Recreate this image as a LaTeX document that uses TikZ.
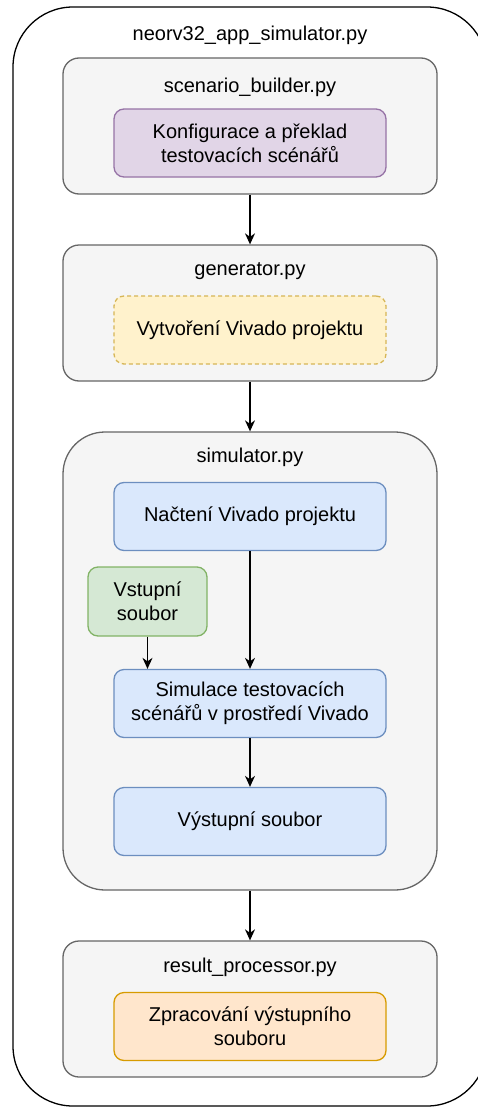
\documentclass[tikz,border=0pt]{standalone}
\usepackage{fontspec}
\setmainfont{Liberation Sans}
\usetikzlibrary{arrows.meta}
\definecolor{grpfill}{HTML}{F5F5F5}
\definecolor{grpline}{HTML}{666666}
\definecolor{purfill}{HTML}{E1D5E7}
\definecolor{purline}{HTML}{9673A6}
\definecolor{yelfill}{HTML}{FFF2CC}
\definecolor{yelline}{HTML}{D6B656}
\definecolor{blufill}{HTML}{DAE8FC}
\definecolor{bluline}{HTML}{6C8EBF}
\definecolor{grnfill}{HTML}{D5E8D4}
\definecolor{grnline}{HTML}{82B366}
\definecolor{orafill}{HTML}{FFE6CC}
\definecolor{oraline}{HTML}{D79B00}
\begin{document}
\begin{tikzpicture}[x=1pt,y=-1pt,
  every node/.style={font=\fontsize{20}{24}\selectfont, inner sep=0pt, align=center, text=black},
  outerbox/.style={draw=black, line width=1.3pt, rounded corners=60pt, minimum width=474pt, minimum height=1099pt},
  group/.style={draw=grpline, fill=grpfill, line width=1.3pt, rounded corners=16pt, minimum width=374pt, minimum height=136pt},
  simgroup/.style={draw=grpline, fill=grpfill, line width=1.3pt, rounded corners=42pt, minimum width=374pt, minimum height=458pt},
  inbox/.style={line width=1.3pt, rounded corners=10pt, minimum width=272pt, minimum height=68pt},
  purbox/.style={inbox, draw=purline, fill=purfill},
  yelbox/.style={inbox, draw=yelline, fill=yelfill, dash pattern=on 4pt off 3pt},
  blubox/.style={inbox, draw=bluline, fill=blufill},
  grnbox/.style={inbox, draw=grnline, fill=grnfill, minimum width=119pt, minimum height=69pt},
  orabox/.style={inbox, draw=oraline, fill=orafill},
  conn/.style={line width=1.3pt, -{Stealth[length=11pt,width=10pt,inset=3.5pt]}}
]
\useasboundingbox (0,0) rectangle (477,1108);
\node[outerbox] (outer) at (250,556.5) {};
\node (outertitle) at (250,35) {neorv32\_app\_simulator.py};

\node[group] (builder) at (250,126) {};
\node (buildertitle) at (250,87) {scenario\_builder.py};
\node[purbox] (konf) at (250,143) {Konfigurace a překlad\\testovacích scénářů};

\node[group] (gen) at (250,313) {};
\node (gentitle) at (250,271) {generator.py};
\node[yelbox] (vytv) at (250,330) {Vytvoření Vivado projektu};

\node[simgroup] (sim) at (250,661) {};
\node (simtitle) at (250,457) {simulator.py};
\node[blubox] (nact) at (250,516.5) {Načtení Vivado projektu};
\node[grnbox] (vstup) at (147.5,601.5) {Vstupní\\soubor};
\node[blubox] (simul) at (250,703.5) {Simulace testovacích\\scénářů v prostředí Vivado};
\node[blubox] (vystup) at (250,821.5) {Výstupní soubor};

\node[group] (res) at (250,1009) {};
\node (restitle) at (250,967) {result\_processor.py};
\node[orabox] (zprac) at (250,1026.5) {Zpracování výstupního\\souboru};

\draw[conn] (builder.south) -- (gen.north);
\draw[conn] (gen.south) -- (sim.north);
\draw[conn] (nact.south) -- (simul.north);
\draw[conn] (vstup.south) -- (vstup.south |- simul.north);
\draw[conn] (simul.south) -- (vystup.north);
\draw[conn] (sim.south) -- (res.north);
\end{tikzpicture}
\end{document}
